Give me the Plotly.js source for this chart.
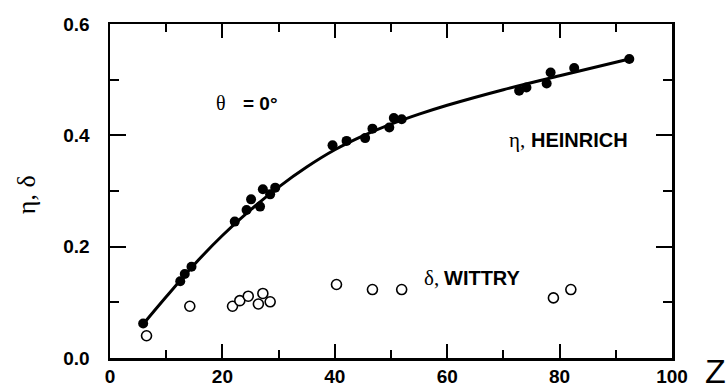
<!DOCTYPE html>
<html>
<head>
<meta charset="utf-8">
<script src="https://cdn.plot.ly/plotly-3.0.1.min.js"></script>
<style>html,body{margin:0;padding:0;background:#fff;}#chart{width:728px;height:385px;}</style>
</head>
<body>
<div id="chart"></div>
<script>
// Heinrich backscatter coefficient eta (filled circles)
const etaZ = [5.9, 12.5, 13.3, 14.5, 22.2, 24.3, 25.1, 26.7, 27.2, 28.5, 29.4,
              39.6, 42.1, 45.4, 46.7, 49.7, 50.5, 51.9,
              72.8, 74.1, 77.7, 78.4, 82.6, 92.4];
const etaVal = [0.062, 0.138, 0.151, 0.164, 0.245, 0.266, 0.285, 0.272, 0.303, 0.294, 0.306,
                0.382, 0.390, 0.395, 0.412, 0.414, 0.431, 0.429,
                0.480, 0.486, 0.493, 0.513, 0.521, 0.537];
// Wittry secondary electron coefficient delta (open circles)
const deltaZ = [6.5, 14.2, 21.8, 23.1, 24.6, 26.4, 27.2, 28.5, 40.3, 46.7, 51.9, 78.9, 82.0];
const deltaVal = [0.040, 0.093, 0.093, 0.103, 0.111, 0.097, 0.116, 0.101, 0.132, 0.123, 0.123, 0.108, 0.123];
// Fitted curve through eta
const fitZ = [6, 10, 15, 20, 25, 30, 35, 40, 45, 50, 55, 60, 70, 80, 92.4];
const fitVal = [0.062, 0.110, 0.168, 0.220, 0.266, 0.307, 0.343, 0.374, 0.399, 0.420, 0.438, 0.454, 0.482, 0.507, 0.537];

const xTicks = [0, 20, 40, 60, 80, 100];
const yTicks = [0.0, 0.2, 0.4, 0.6];

const SANS = 'Liberation Sans, Arial, sans-serif';
const SERIF = 'Liberation Serif, Times New Roman, serif';

const traces = [
  {x: fitZ, y: fitVal, mode: 'lines', line: {color: '#000', width: 3, shape: 'spline', smoothing: 1}, hoverinfo: 'skip'},
  {x: etaZ, y: etaVal, mode: 'markers', marker: {color: '#000', size: 10, line: {width: 0}}},
  {x: deltaZ, y: deltaVal, mode: 'markers', marker: {color: '#fff', size: 10, symbol: 'circle', line: {color: '#000', width: 1.6}}}
];

const axisCommon = {
  showgrid: false, zeroline: false, showline: true, linecolor: '#000', linewidth: 2.5,
  mirror: 'ticks', ticks: 'inside', tickcolor: '#000', tickwidth: 2,
  tickfont: {family: SANS, size: 19, color: '#000', weight: 700}
};

const layout = {
  width: 728, height: 385,
  margin: {l: 110, r: 56, t: 24, b: 27},
  paper_bgcolor: '#fff', plot_bgcolor: '#fff',
  showlegend: false,
  xaxis: Object.assign({}, axisCommon, {
    range: [0, 100], tickmode: 'array', tickvals: xTicks, ticktext: xTicks.map(String),
    ticklen: 14, ticklabelstandoff: 0,
    minor: {dtick: 10, tick0: 0, ticks: 'inside', ticklen: 8, tickwidth: 2, tickcolor: '#000', showgrid: false}
  }),
  yaxis: Object.assign({}, axisCommon, {
    range: [0, 0.6], tickmode: 'array', tickvals: yTicks, ticktext: yTicks.map(v => v.toFixed(1)),
    ticklen: 16, ticklabelstandoff: 14,
    minor: {dtick: 0.1, tick0: 0, ticks: 'inside', ticklen: 9, tickwidth: 2, tickcolor: '#000', showgrid: false}
  }),
  annotations: [
    {xref: 'paper', yref: 'paper', x: -0.148, y: 0.49, xanchor: 'center', yanchor: 'middle', text: 'η, δ', textangle: -90, showarrow: false,
     font: {family: SERIF, size: 26, color: '#000'}},
    {xref: 'paper', yref: 'paper', x: 1.077, y: -0.04, xanchor: 'center', yanchor: 'middle', text: 'Z', showarrow: false,
     font: {family: SANS, size: 34, color: '#000'}},
    {xref: 'paper', yref: 'paper', x: 0.185, y: 0.763, xanchor: 'left', yanchor: 'middle', text: 'θ', showarrow: false,
     font: {family: SERIF, size: 20, color: '#000'}},
    {xref: 'paper', yref: 'paper', x: 0.233, y: 0.763, xanchor: 'left', yanchor: 'middle', text: '<b>= 0°</b>', showarrow: false,
     font: {family: SANS, size: 19, color: '#000'}},
    {xref: 'paper', yref: 'paper', x: 0.706, y: 0.653, xanchor: 'left', yanchor: 'middle', text: 'η,', showarrow: false,
     font: {family: SERIF, size: 21, color: '#000'}},
    {xref: 'paper', yref: 'paper', x: 0.746, y: 0.653, xanchor: 'left', yanchor: 'middle', text: '<b>HEINRICH</b>', showarrow: false,
     font: {family: SANS, size: 20, color: '#000'}},
    {xref: 'paper', yref: 'paper', x: 0.556, y: 0.24, xanchor: 'left', yanchor: 'middle', text: 'δ,', showarrow: false,
     font: {family: SERIF, size: 21, color: '#000'}},
    {xref: 'paper', yref: 'paper', x: 0.590, y: 0.24, xanchor: 'left', yanchor: 'middle', text: '<b>WITTRY</b>', showarrow: false,
     font: {family: SANS, size: 20, color: '#000'}}
  ]
};

Plotly.newPlot('chart', traces, layout, {displayModeBar: false, staticPlot: true});
</script>
</body>
</html>
